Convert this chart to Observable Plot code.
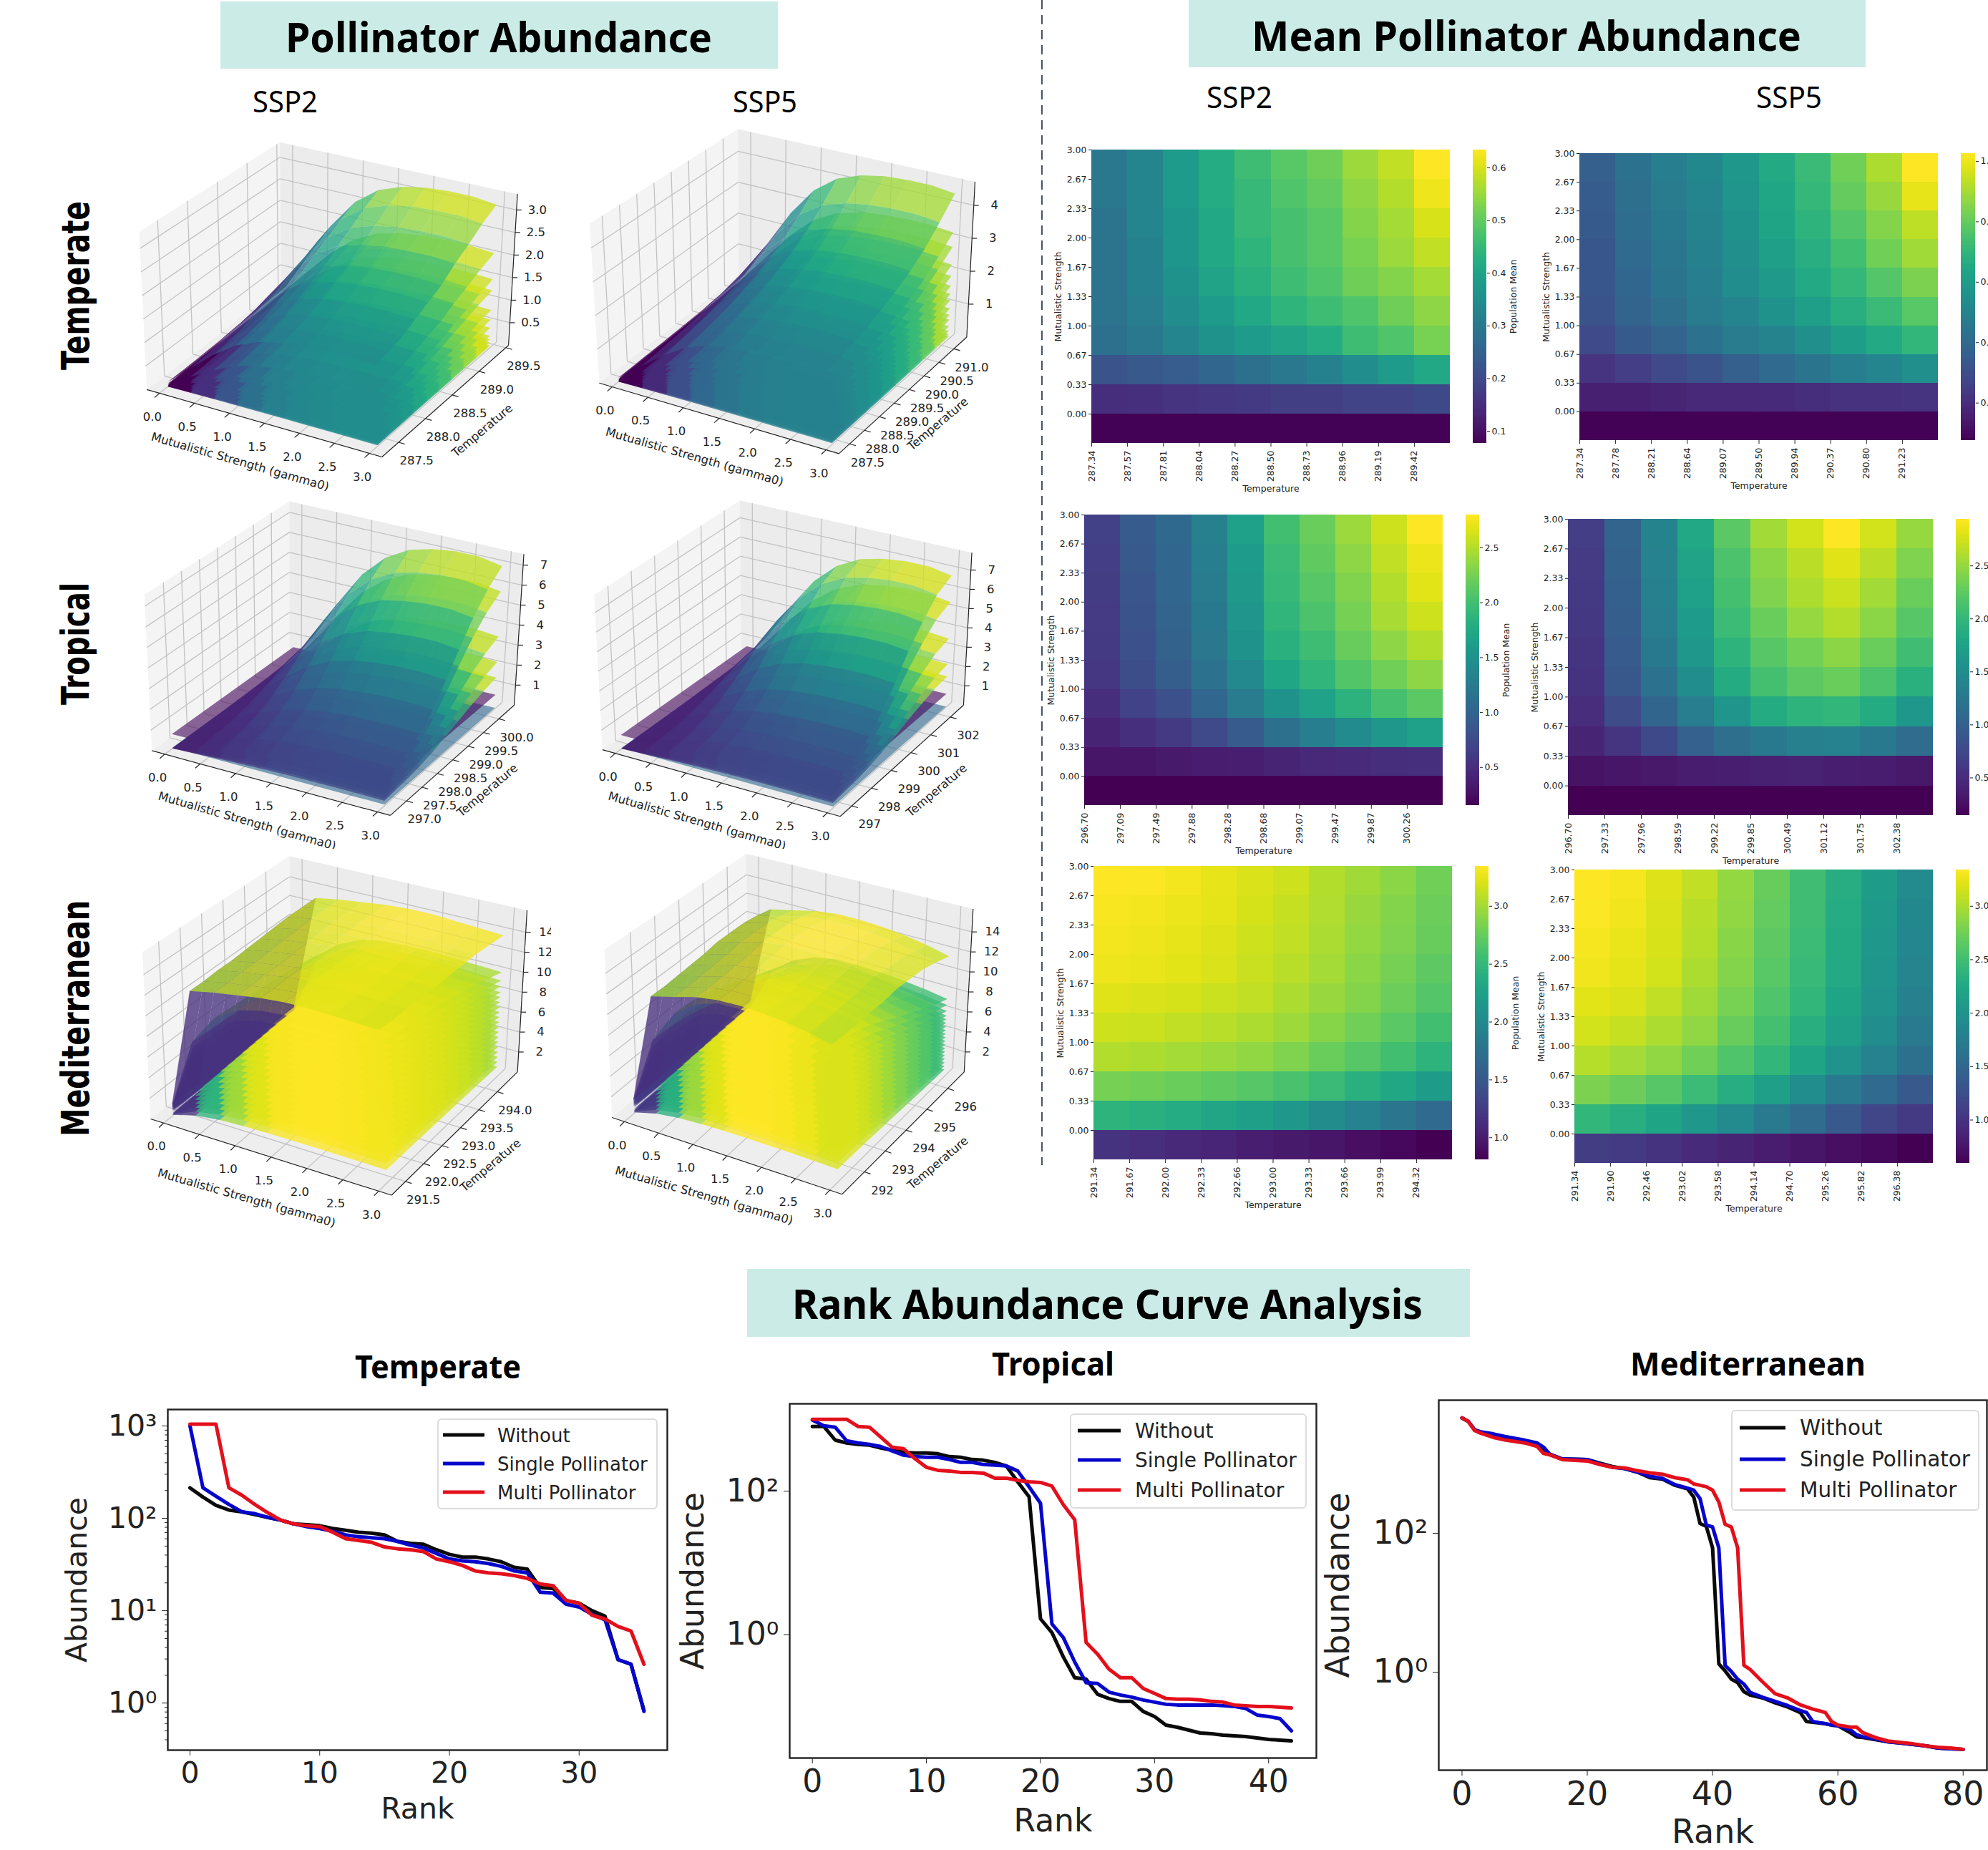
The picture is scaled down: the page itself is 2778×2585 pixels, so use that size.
<!DOCTYPE html>
<html><head><meta charset="utf-8">
<script src="https://cdn.jsdelivr.net/npm/d3@7"></script>
<script src="https://cdn.jsdelivr.net/npm/@observablehq/plot@0.6"></script>
<style>
html,body{margin:0;background:#fff}
#page{position:relative;width:2778px;height:2585px;overflow:hidden;background:#fff}
#page svg{position:absolute}
</style></head><body><div id="page"></div>
<script>
// ---------- rank abundance data (log10 abundance) ----------
const seriesNames = ["Without","Single Pollinator","Multi Pollinator"];
const seriesColors = ["#0a0a0a","#0505cc","#e3101c"];
const ranksTemperate = d3.range(36);
const temperateWithout = [2.33,2.23,2.14,2.09,2.07,2.04,2.01,1.98,1.94,1.93,1.92,1.89,1.87,1.85,1.84,1.82,1.75,1.73,1.72,1.66,1.61,1.58,1.58,1.56,1.53,1.47,1.45,1.25,1.24,1.11,1.08,1.00,0.94,0.47,0.42,-0.08];
const temperateSingle = [3.0,2.33,2.24,2.15,2.07,2.05,2.01,1.98,1.94,1.91,1.89,1.86,1.82,1.80,1.79,1.78,1.75,1.71,1.68,1.62,1.56,1.54,1.53,1.51,1.48,1.43,1.41,1.20,1.19,1.07,1.04,0.96,0.90,0.47,0.42,-0.09];
const temperateMulti = [3.02,3.02,3.02,2.33,2.25,2.15,2.06,1.98,1.94,1.92,1.91,1.85,1.78,1.76,1.74,1.69,1.67,1.66,1.64,1.56,1.53,1.49,1.43,1.41,1.40,1.38,1.35,1.29,1.27,1.11,1.08,0.95,0.91,0.83,0.78,0.42];
const ranksTropical = d3.range(43);
const tropicalWithout = [2.90,2.90,2.71,2.67,2.65,2.64,2.60,2.57,2.54,2.53,2.53,2.52,2.48,2.47,2.44,2.43,2.40,2.35,2.13,1.92,0.22,0.03,-0.31,-0.60,-0.62,-0.83,-0.89,-0.93,-0.93,-1.07,-1.14,-1.26,-1.29,-1.33,-1.37,-1.38,-1.40,-1.41,-1.42,-1.44,-1.46,-1.47,-1.48];
const tropicalSingle = [2.99,2.91,2.89,2.70,2.67,2.65,2.62,2.56,2.50,2.48,2.47,2.47,2.44,2.40,2.40,2.37,2.36,2.35,2.28,2.06,1.83,0.15,-0.04,-0.38,-0.67,-0.68,-0.80,-0.84,-0.87,-0.91,-0.94,-0.97,-0.98,-0.98,-0.98,-0.98,-0.99,-1.00,-1.03,-1.12,-1.14,-1.17,-1.34];
const tropicalMulti = [3.00,3.00,3.00,3.00,2.90,2.89,2.75,2.61,2.59,2.45,2.33,2.29,2.28,2.26,2.26,2.25,2.18,2.18,2.15,2.13,2.12,2.07,1.81,1.60,-0.11,-0.27,-0.48,-0.60,-0.60,-0.75,-0.82,-0.89,-0.90,-0.90,-0.91,-0.93,-0.94,-0.98,-0.99,-1.00,-1.00,-1.01,-1.02];
const ranksMediterranean = [0,1,2,3,5,7,10,12,13,14,16,20,22,24,26,28,30,32,34,36,37,38,39,40,41,42,43,44,45,46,48,50,52,54,55,56,58,59,60,62,63,64,66,68,70,72,74,76,78,80];
const mediterraneanWithout = [3.66,3.61,3.49,3.45,3.41,3.37,3.33,3.29,3.21,3.13,3.07,3.06,3.01,2.96,2.93,2.88,2.80,2.78,2.69,2.64,2.52,2.14,2.10,1.79,0.12,0.02,-0.10,-0.15,-0.28,-0.33,-0.37,-0.44,-0.50,-0.58,-0.71,-0.72,-0.74,-0.76,-0.77,-0.87,-0.93,-0.94,-0.97,-1.00,-1.02,-1.04,-1.06,-1.09,-1.10,-1.11];
const mediterraneanSingle = [3.66,3.61,3.49,3.46,3.43,3.39,3.34,3.30,3.24,3.14,3.07,3.06,3.00,2.95,2.93,2.88,2.82,2.79,2.70,2.65,2.62,2.50,2.12,2.09,1.79,0.10,0.01,-0.10,-0.17,-0.29,-0.36,-0.42,-0.48,-0.55,-0.58,-0.71,-0.74,-0.76,-0.77,-0.83,-0.90,-0.93,-0.96,-1.00,-1.02,-1.04,-1.06,-1.09,-1.10,-1.11];
const mediterraneanMulti = [3.66,3.61,3.48,3.44,3.38,3.34,3.30,3.25,3.15,3.13,3.06,3.04,2.99,2.95,2.94,2.90,2.87,2.85,2.80,2.77,2.71,2.69,2.67,2.62,2.45,2.13,2.09,1.79,0.10,0.04,-0.14,-0.31,-0.37,-0.47,-0.50,-0.53,-0.58,-0.71,-0.76,-0.79,-0.79,-0.87,-0.94,-0.99,-1.01,-1.03,-1.06,-1.08,-1.09,-1.11];

// ---------- heatmap data (rows from gamma 3.00 down to below 0.00) ----------
const gammaLabels = ["3.00","2.67","2.33","2.00","1.67","1.33","1.00","0.67","0.33","0.00"];
const tempsT2 = [287.34,287.57,287.81,288.04,288.27,288.50,288.73,288.96,289.19,289.42];
const tempsT5 = [287.34,287.78,288.21,288.64,289.07,289.50,289.94,290.37,290.80,291.23];
const tempsR2 = [296.70,297.09,297.49,297.88,298.28,298.68,299.07,299.47,299.87,300.26];
const tempsR5 = [296.70,297.33,297.96,298.59,299.22,299.85,300.49,301.12,301.75,302.38];
const tempsM2 = [291.34,291.67,292.00,292.33,292.66,293.00,293.33,293.66,293.99,294.32];
const tempsM5 = [291.34,291.90,292.46,293.02,293.58,294.14,294.70,295.26,295.82,296.38];
const meanT2 = [[.30,.33,.38,.42,.46,.49,.51,.55,.58,.634],[.30,.33,.38,.42,.45,.48,.50,.54,.57,.62],[.29,.33,.37,.41,.45,.47,.49,.53,.56,.60],[.29,.32,.37,.41,.44,.47,.49,.52,.55,.58],[.29,.32,.36,.40,.43,.46,.48,.51,.53,.56],[.29,.31,.35,.38,.41,.44,.46,.48,.51,.54],[.28,.30,.33,.36,.38,.40,.42,.46,.48,.52],[.22,.23,.24,.26,.28,.30,.32,.35,.38,.41],[.15,.155,.16,.165,.17,.18,.18,.19,.19,.20],[.08,.08,.08,.08,.08,.08,.08,.08,.08,.08]];
const meanT5 = [[.36,.43,.48,.52,.58,.65,.72,.82,.91,1.026],[.35,.42,.47,.51,.57,.64,.71,.80,.88,.99],[.34,.41,.46,.50,.56,.63,.69,.77,.85,.93],[.33,.40,.45,.49,.55,.61,.67,.74,.82,.89],[.33,.39,.44,.48,.54,.59,.65,.71,.77,.84],[.32,.38,.42,.47,.51,.56,.61,.67,.72,.78],[.29,.34,.38,.43,.47,.50,.55,.60,.65,.70],[.22,.25,.29,.32,.36,.40,.44,.48,.51,.55],[.16,.16,.17,.18,.18,.19,.20,.21,.21,.22],[.08,.08,.08,.08,.08,.08,.08,.08,.08,.08]];
const meanR2 = [[.65,.90,1.05,1.30,1.65,2.00,2.20,2.40,2.60,2.80],[.63,.88,1.03,1.27,1.60,1.95,2.15,2.35,2.55,2.72],[.62,.85,1.02,1.25,1.58,1.93,2.10,2.30,2.50,2.68],[.61,.83,1.00,1.22,1.53,1.88,2.05,2.25,2.45,2.60],[.60,.80,.98,1.20,1.50,1.83,1.98,2.18,2.35,2.50],[.57,.77,.93,1.15,1.40,1.72,1.88,2.08,2.23,2.35],[.50,.67,.80,1.02,1.25,1.50,1.68,1.85,2.02,2.13],[.42,.52,.60,.75,.90,1.12,1.28,1.42,1.55,1.65],[.30,.30,.33,.36,.38,.42,.45,.47,.50,.52],[.16,.16,.16,.16,.16,.16,.16,.16,.16,.16]];
const meanR5 = [[.65,1.04,1.40,1.82,2.22,2.55,2.75,2.94,2.75,2.50],[.63,1.02,1.38,1.77,2.15,2.45,2.65,2.80,2.65,2.40],[.61,.99,1.35,1.72,2.10,2.40,2.60,2.72,2.55,2.30],[.60,.97,1.32,1.67,2.05,2.30,2.50,2.62,2.45,2.20],[.58,.94,1.28,1.62,1.95,2.20,2.35,2.45,2.30,2.08],[.55,.90,1.20,1.50,1.85,2.10,2.25,2.30,2.15,1.92],[.50,.78,1.05,1.32,1.60,1.85,1.95,1.98,1.85,1.62],[.42,.58,.76,1.00,1.15,1.28,1.35,1.38,1.28,1.12],[.28,.30,.33,.37,.38,.40,.41,.38,.36,.32],[.15,.15,.15,.15,.15,.15,.15,.15,.15,.15]];
const meanM2 = [[3.34,3.33,3.30,3.25,3.20,3.15,3.05,2.98,2.90,2.80],[3.32,3.30,3.27,3.24,3.18,3.12,3.04,2.95,2.87,2.78],[3.30,3.28,3.25,3.21,3.15,3.10,3.02,2.93,2.85,2.76],[3.28,3.26,3.23,3.20,3.13,3.07,3.00,2.90,2.82,2.72],[3.22,3.20,3.18,3.14,3.10,3.03,2.95,2.87,2.78,2.67],[3.15,3.14,3.10,3.07,3.03,2.97,2.88,2.80,2.70,2.58],[3.05,3.03,3.00,2.96,2.92,2.85,2.77,2.68,2.58,2.45],[2.82,2.80,2.77,2.73,2.68,2.62,2.53,2.42,2.32,2.20],[2.45,2.42,2.37,2.30,2.23,2.15,2.03,1.92,1.80,1.68],[1.18,1.15,1.10,1.07,1.02,.98,.95,.90,.86,.81]];
const meanM5 = [[3.34,3.30,3.20,3.08,2.90,2.70,2.50,2.30,2.10,1.90],[3.32,3.28,3.18,3.05,2.88,2.68,2.50,2.28,2.08,1.88],[3.30,3.25,3.17,3.03,2.85,2.66,2.47,2.26,2.06,1.85],[3.28,3.23,3.15,3.00,2.83,2.63,2.45,2.25,2.03,1.83],[3.22,3.18,3.08,2.95,2.78,2.58,2.40,2.20,2.00,1.78],[3.15,3.10,3.00,2.88,2.70,2.52,2.33,2.13,1.93,1.72],[3.03,2.97,2.88,2.75,2.58,2.40,2.20,2.00,1.80,1.60],[2.80,2.72,2.62,2.47,2.30,2.13,1.93,1.72,1.53,1.35],[2.40,2.32,2.20,2.05,1.90,1.72,1.55,1.35,1.17,1.05],[1.08,1.05,1.00,.92,.87,.80,.75,.70,.65,.60]];

// ---------- 3D surface data: sheet heights and response along each grid axis ----------
const gammaGrid = [0,.33,.67,1,1.33,1.67,2,2.33,2.67,3];
const gammaTicks = [0,.5,1,1.5,2,2.5,3];
const sheetsT2 = [.04,.07,.13,.2,.28,.46,.64,.86,1.3,1.55,2.14,3.23];
const sheetsT5 = [.08,.15,.25,.4,.6,.75,.95,1.2,1.4,1.65,1.95,2.3,2.85,3.3,4.5];
const sheetsR2 = [1.6,2.4,3.7,6.0,7.3];
const sheetsR5 = [1.65,2.3,3.65,5.6,7.0];
const sheetsM2 = [1.2,1.8,2.4,3,3.6,4.2,4.8,5.4,6,6.6,7.2,7.8,8.4,9,9.6,10.2,10.9,11.6,12.6,14.5];
const sheetsM5 = [1.2,1.8,2.4,3,3.6,4.2,4.8,5.4,6,6.6,7.2,7.8,8.4,9,9.6,10.2,11,12,13,14];
const gammaRespT = [.06,.32,.58,.78,.9,.96,.99,1,1,.98];
const gammaRespR = [.02,.22,.48,.7,.85,.94,.98,1,1,.97];
const gammaRespM2 = [.08,.62,.85,.95,.99,1,1,.99,.98,.97];
const gammaRespM5 = [.1,.6,.84,.95,1,1,.99,.97,.94,.9];
const topGammaM2 = [.08,.92,.95,.97,.99,1,1,.99,.98,.97];
const topGammaM5 = [.1,.9,.94,.98,1,1,.99,.97,.94,.9];
const tempRespT2 = [.5,.52,.55,.6,.65,.7,.78,.85,.93,1];
const tempRespT5 = [.45,.47,.5,.53,.57,.62,.68,.76,.87,1];
const tempRespR2 = [.14,.17,.2,.26,.35,.48,.62,.77,.9,1];
const tempRespR5 = [.14,.17,.2,.27,.37,.5,.66,.8,.93,1];
const tempRespM2 = [1,.99,.98,.97,.96,.95,.93,.91,.88,.85];
const tempRespM5 = [1,1,.98,.95,.9,.85,.8,.75,.7,.66];
const topRespM2 = [.95,.95,.96,.96,.97,.98,.99,1,1,1];
const topRespM5 = [.95,.95,.96,.97,.98,1,1,1,.98,.95];
const flatHeightsR = [.05,.7];
const flatShadesR = [.33,.03];

// ---------- layout ----------
const page = document.getElementById("page");
const SVGNS = "http://www.w3.org/2000/svg";
const overlay = document.createElementNS(SVGNS,"svg");
overlay.setAttribute("width",2778); overlay.setAttribute("height",2585);
overlay.style.cssText = "left:0;top:0;z-index:5;pointer-events:none";
function el(name,attrs){const e=document.createElementNS(SVGNS,name);for(const k in attrs)e.setAttribute(k,attrs[k]);overlay.appendChild(e);return e;}
function label(str,x,y,o){
  const e = el("text",{x,y,"font-family":o.family||"'Noto Sans'","font-size":o.size,"font-weight":o.weight||400,fill:"#000",
    textLength:o.len,lengthAdjust:"spacingAndGlyphs"});
  if(o.rotate) e.setAttribute("transform",`rotate(${o.rotate} ${x} ${y})`);
  e.textContent = str;
}
const band = "#cbece6";
function bandRect(x,y,w,h){el("rect",{x,y,width:w,height:h,fill:band});}
bandRect(308,2,779,94); bandRect(1661,0,946,94); bandRect(1044,1773,1010,95);
label("Pollinator Abundance",399,73,{size:58,weight:700,len:596});
label("Mean Pollinator Abundance",1749,71,{size:58,weight:700,len:768});
label("Rank Abundance Curve Analysis",1107,1843,{size:58,weight:700,len:881});
label("SSP2",353,157,{size:42,len:91}); label("SSP5",1024,157,{size:42,len:90});
label("SSP2",1686,151,{size:42,len:92}); label("SSP5",2454,151,{size:42,len:92});
label("Temperate",124,517,{size:53,weight:700,family:"'DejaVu Sans'",rotate:-90,len:236});
label("Tropical",124,985,{size:53,weight:700,family:"'DejaVu Sans'",rotate:-90,len:171});
label("Mediterranean",124,1588,{size:53,weight:700,family:"'DejaVu Sans'",rotate:-90,len:330});
label("Temperate",496,1926,{size:44,weight:700,len:232});
label("Tropical",1386,1922,{size:44,weight:700,len:171});
label("Mediterranean",2278,1922,{size:44,weight:700,len:329});
el("line",{x1:1456,y1:0,x2:1456,y2:1628,stroke:"#44546a","stroke-width":2,"stroke-dasharray":"13 8"});

const FONT = "'DejaVu Sans'";
const place = (left,top)=>({position:"absolute",left:left+"px",top:top+"px",background:"transparent",maxWidth:"none",fontFamily:FONT,color:"#222"});

// ---------- heatmaps ----------
function heatmap(matrix,temps,f){
  const cells = matrix.flatMap((row,r)=>row.map((v,c)=>({c,r,v})));
  const [l,t,rt,b] = f.frame, mL=70, mB=90, mT=12;
  const lo=f.domain[0], hi=f.domain[1];
  page.appendChild(Plot.plot({
    width:rt-l+mL, height:b-t+mB+mT, marginLeft:mL, marginRight:0, marginTop:mT, marginBottom:mB,
    style:place(l-mL,t-mT),
    x:{domain:[0,10]}, y:{domain:[0,10],reverse:true},
    color:{type:"linear",scheme:"viridis",domain:[lo,hi]},
    marks:[
      Plot.rect(cells,{x1:"c",x2:d=>d.c+1,y1:"r",y2:d=>d.r+1,fill:"v",shapeRendering:"crispEdges"}),
      Plot.axisX({ticks:d3.range(10),tickFormat:i=>temps[i].toFixed(2),tickRotate:-90,tickSize:5,tickPadding:5,fontSize:12.5,label:"Temperature",labelAnchor:"center",labelOffset:67,labelArrow:"none"}),
      Plot.axisY({ticks:d3.range(10),tickFormat:i=>gammaLabels[i],tickSize:4,tickPadding:3,fontSize:12.5,label:"Mutualistic Strength",labelAnchor:"center",labelOffset:51,labelArrow:"none"})
    ]}));
  const [c1,c2] = f.bar, H=b-t;
  const steps = d3.range(160).map(i=>({a:lo+(hi-lo)*i/160,b:lo+(hi-lo)*(i+1)/160,v:lo+(hi-lo)*(i+.5)/160}));
  page.appendChild(Plot.plot({
    width:c2-c1+85, height:H+16, marginLeft:0, marginRight:85, marginTop:8, marginBottom:8,
    style:place(c1,t-8),
    x:{domain:[0,1],axis:null}, y:{domain:[lo,hi]},
    color:{type:"linear",scheme:"viridis",domain:[lo,hi]},
    marks:[
      Plot.rect(steps,{x1:0,x2:1,y1:"a",y2:"b",fill:"v",shapeRendering:"crispEdges"}),
      Plot.axisY({anchor:"right",ticks:f.barTicks,tickFormat:d3.format(".1f"),tickSize:4,tickPadding:3,fontSize:12.5,label:"Population Mean",labelAnchor:"center",labelOffset:41,labelArrow:"none"})
    ]}));
}
heatmap(meanT2,tempsT2,{frame:[1525,209,2026,619],bar:[2058,2077],domain:[.077,.634],barTicks:[.1,.2,.3,.4,.5,.6]});
heatmap(meanT5,tempsT5,{frame:[2207,214,2708,615],bar:[2740,2760],domain:[.076,1.026],barTicks:[.2,.4,.6,.8,1]});
heatmap(meanR2,tempsR2,{frame:[1515,719,2016,1125],bar:[2048,2067],domain:[.153,2.80],barTicks:[.5,1,1.5,2,2.5]});
heatmap(meanR5,tempsR5,{frame:[2191,725,2701,1139],bar:[2733,2752],domain:[.145,2.94],barTicks:[.5,1,1.5,2,2.5]});
heatmap(meanM2,tempsM2,{frame:[1528,1210,2029,1620],bar:[2061,2080],domain:[.81,3.345],barTicks:[1,1.5,2,2.5,3]});
heatmap(meanM5,tempsM5,{frame:[2200,1215,2701,1625],bar:[2733,2752],domain:[.595,3.34],barTicks:[1,1.5,2,2.5,3]});

// ---------- 3D surfaces: each sheet is projected with the corners of the plot box ----------
const fromTop = ([x,y])=>[60+.893*x,.459*y];       // picture layout of the first row
const fromLower = ([x,y])=>[60+.893*x,690+.67*y];  // picture layout of the lower rows
function surface3d(o){
  const m = o.map, C = {}; for(const k in o.corners) C[k]=m(o.corners[k]);
  const P = (u,v,w)=>{const q=k=>(1-w)*((1-v)*((1-u)*C.LB[k]+u*C.FB[k])+v*((1-u)*C.BB[k]+u*C.RB[k]))+w*((1-v)*((1-u)*C.LT[k]+u*C.FT[k])+v*((1-u)*C.BT[k]+u*C.RT[k]));return [q(0),q(1)];};
  const [g0,g1]=o.gammaDomain,[T0,T1]=o.tempDomain,zMax=o.zMax;
  const U=g=>(g-g0)/(g1-g0),V=T=>(T-T0)/(T1-T0),W=z=>z/zMax;
  const poly=(rows,id,pts,extra)=>{for(const p of pts){const [x,y]=P(...p);rows.push({id,x,y,...extra});}};
  const wallL=[],wallB=[],floor=[];
  poly(wallL,0,[[0,0,0],[0,1,0],[0,1,1],[0,0,1]]);
  poly(wallB,0,[[0,1,0],[1,1,0],[1,1,1],[0,1,1]]);
  poly(floor,0,[[0,0,0],[1,0,0],[1,1,0],[0,1,0]]);
  const seg=(a,b)=>{const [x1,y1]=P(...a),[x2,y2]=P(...b);return {x1,y1,x2,y2};};
  const grid=[];
  for(const g of gammaTicks){const u=U(g);grid.push(seg([u,0,0],[u,1,0]),seg([u,1,0],[u,1,1]));}
  for(const T of o.tempTicks){const v=V(T);grid.push(seg([0,v,0],[1,v,0]),seg([0,v,0],[0,v,1]));}
  for(const z of o.zTicks){const w=W(z);grid.push(seg([0,0,w],[0,1,w]),seg([0,1,w],[1,1,w]));}
  const temps=o.temps;
  // flat low sheets
  const flats=[];
  (o.flatZ||[]).forEach((z,k)=>{
    poly(flats,k,[[U(0),V(temps[0]),W(z)],[U(3),V(temps[0]),W(z)],[U(3),V(temps[9]),W(z)],[U(0),V(temps[9]),W(z)]],{t:o.flatT[k]});
  });
  // sheets, lowest first and far cells first
  const sheets=[]; let id=0;
  const tFloor=o.tFloor||0;
  o.peaks.forEach((peak,s)=>{
    const isTop=s===o.peaks.length-1;
    const tr = (isTop&&o.topResp)?o.topResp:o.tempResp;
    const gr = (isTop&&o.topGamma)?o.topGamma:o.gammaResp;
    const Z=(i,j)=>peak*gr[i]*tr[j];
    const zs=gammaGrid.flatMap((_,i)=>temps.map((_,j)=>Z(i,j)));
    const lo=d3.min(zs),hi=d3.max(zs);
    for(let j=8;j>=0;j--)for(let i=0;i<9;i++){
      poly(sheets,id++,[[U(gammaGrid[i]),V(temps[j]),W(Z(i,j))],[U(gammaGrid[i+1]),V(temps[j]),W(Z(i+1,j))],[U(gammaGrid[i+1]),V(temps[j+1]),W(Z(i+1,j+1))],[U(gammaGrid[i]),V(temps[j+1]),W(Z(i,j+1))]],{t:tFloor+(1-tFloor)*(Z(i,j)-lo)/(hi-lo)});
    }
  });
  // axes
  const unit=(a,b,n)=>{const dx=b[0]-a[0],dy=b[1]-a[1],L=Math.hypot(dx,dy);return [dx/L*n,dy/L*n];};
  const tD=unit(C.RB,C.FB,9), gD=unit(C.LB,C.FB,9);
  const axes=[seg([0,0,0],[1,0,0]),seg([1,0,0],[1,1,0]),seg([1,1,0],[1,1,1])];
  const texts=[];
  for(const g of gammaTicks){const [x,y]=P(U(g),0,0);axes.push({x1:x,y1:y,x2:x+tD[0],y2:y+tD[1]});texts.push({x:x-10,y:y+33,s:g.toFixed(1)});}
  for(const T of o.tempTicks){const [x,y]=P(1,V(T),0);axes.push({x1:x,y1:y,x2:x+gD[0],y2:y+gD[1]});texts.push({x:x+25,y:y+26,s:o.tempFmt(T)});}
  for(const z of o.zTicks){const [x,y]=P(1,1,W(z));axes.push({x1:x,y1:y,x2:x+7,y2:y});texts.push({x:x+29,y,s:o.zFmt(z)});}
  const [bx0,by0,bx1,by1]=o.box;
  const [gx,gy]=m(o.gammaLabel),[tx,ty]=m(o.tempLabel);
  page.appendChild(Plot.plot({
    width:bx1-bx0,height:by1-by0,margin:0,style:place(bx0,by0),
    x:{domain:[bx0,bx1],range:[0,bx1-bx0],axis:null},y:{domain:[by0,by1],range:[0,by1-by0],axis:null},
    color:{type:"linear",scheme:"viridis",domain:[0,1]},
    marks:[
      Plot.line(floor,{x:"x",y:"y",z:"id",fill:"#eeeeee",stroke:"none"}),
      Plot.line(wallL,{x:"x",y:"y",z:"id",fill:"#f4f4f4",stroke:"none"}),
      Plot.line(wallB,{x:"x",y:"y",z:"id",fill:"#ececec",stroke:"none"}),
      Plot.link(grid,{x1:"x1",y1:"y1",x2:"x2",y2:"y2",stroke:"#c2c2c2",strokeWidth:1.3}),
      Plot.link(axes,{x1:"x1",y1:"y1",x2:"x2",y2:"y2",stroke:"#222",strokeWidth:1.2}),
      Plot.line(flats,{x:"x",y:"y",z:"id",fill:"t",stroke:"none",fillOpacity:.62}),
      Plot.line(sheets,{x:"x",y:"y",z:"id",fill:"t",stroke:"none",fillOpacity:.78}),
      Plot.text(texts,{x:"x",y:"y",text:"s",fontSize:16.5,fill:"#222"}),
      Plot.text([{x:gx,y:gy}],{x:"x",y:"y",text:()=>"Mutualistic Strength (gamma0)",rotate:16,fontSize:16.5,fill:"#222"}),
      Plot.text([{x:tx,y:ty}],{x:"x",y:"y",text:()=>"Temperature",rotate:-40,fontSize:16.5,fill:"#222"})
    ]}));
}
const f1=d3.format(".1f"), f0=d3.format("d");
surface3d({map:fromTop,box:[140,170,770,686],corners:{LB:[162,1185],LT:[150,705],BB:[372,870],BT:[370,432],RB:[728,1050],RT:[742,590],FB:[530,1390],FT:[522,860]},
  gammaDomain:[-.18,3.18],tempDomain:[287.19,289.55],zMax:3.35,temps:tempsT2,peaks:sheetsT2,gammaResp:gammaRespT,tempResp:tempRespT2,
  tempTicks:[287.5,288,288.5,289,289.5],zTicks:[.5,1,1.5,2,2.5,3],tempFmt:f1,zFmt:f1,gammaLabel:[308,1405],tempLabel:[687,1310]});
surface3d({map:fromTop,box:[770,170,1450,686],corners:{LB:[870,1165],LT:[855,680],BB:[1088,835],BT:[1087,392],RB:[1445,1025],RT:[1458,552],FB:[1245,1380],FT:[1226,840]},
  gammaDomain:[-.18,3.18],tempDomain:[287.14,291.43],zMax:4.72,temps:tempsT5,peaks:sheetsT5,gammaResp:gammaRespT,tempResp:tempRespT5,
  tempTicks:[287.5,288,288.5,289,289.5,290,290.5,291],zTicks:[1,2,3,4],tempFmt:f1,zFmt:f0,gammaLabel:[1019,1390],tempLabel:[1400,1290]});
surface3d({map:fromLower,box:[140,690,770,1186],corners:{LB:[170,535],LT:[158,210],BB:[385,330],BT:[385,15],RB:[737,440],RT:[752,125],FB:[543,670],FT:[525,315]},
  gammaDomain:[-.18,3.18],tempDomain:[296.47,300.5],zMax:7.55,temps:tempsR2,peaks:sheetsR2,gammaResp:gammaRespR,tempResp:tempRespR2,flatZ:flatHeightsR,flatT:flatShadesR,tFloor:.1,
  tempTicks:[297,297.5,298,298.5,299,299.5,300],zTicks:[1,2,3,4,5,6,7],tempFmt:f1,zFmt:f0,gammaLabel:[319,682],tempLabel:[695,618]});
surface3d({map:fromLower,box:[770,690,1450,1186],corners:{LB:[875,533],LT:[862,210],BB:[1092,330],BT:[1090,13],RB:[1440,440],RT:[1453,122],FB:[1247,672],FT:[1225,318]},
  gammaDomain:[-.18,3.18],tempDomain:[296.41,302.67],zMax:7.9,temps:tempsR5,peaks:sheetsR5,gammaResp:gammaRespR,tempResp:tempRespR5,flatZ:flatHeightsR,flatT:flatShadesR,tFloor:.1,
  tempTicks:[297,298,299,300,301,302],zTicks:[1,2,3,4,5,6,7],tempFmt:f0,zFmt:f0,gammaLabel:[1023,682],tempLabel:[1398,618]});
surface3d({map:fromLower,box:[140,1190,770,1718],corners:{LB:[168,1303],LT:[155,955],BB:[388,1070],BT:[385,755],RB:[742,1205],RT:[757,868],FB:[545,1462],FT:[527,1068]},
  gammaDomain:[-.18,3.18],tempDomain:[291.12,294.55],zMax:16.2,temps:tempsM2,peaks:sheetsM2,gammaResp:gammaRespM2,topGamma:topGammaM2,tempResp:tempRespM2,topResp:topRespM2,tFloor:.14,
  tempTicks:[291.5,292,292.5,293,293.5,294],zTicks:[2,4,6,8,10,12,14],tempFmt:f1,zFmt:f0,gammaLabel:[318,1468],tempLabel:[700,1400]});
surface3d({map:fromLower,box:[770,1190,1450,1718],corners:{LB:[890,1300],LT:[878,950],BB:[1103,1060],BT:[1100,750],RB:[1441,1205],RT:[1455,865],FB:[1250,1460],FT:[1233,1065]},
  gammaDomain:[-.18,3.18],tempDomain:[290.93,296.79],zMax:16.3,temps:tempsM5,peaks:sheetsM5,gammaResp:gammaRespM5,topGamma:topGammaM5,tempResp:tempRespM5,topResp:topRespM5,tFloor:.14,
  tempTicks:[292,293,294,295,296],zTicks:[2,4,6,8,10,12,14],tempFmt:f0,zFmt:f0,gammaLabel:[1034,1463],tempLabel:[1400,1395]});

// ---------- rank abundance curves ----------
const supers = {"-":"⁻",0:"⁰",1:"¹",2:"²",3:"³"};
function rankPlot(ranks,series,o){
  const rows = series.flatMap((vals,k)=>vals.map((e,i)=>({rank:ranks[i],abundance:10**e,series:seriesNames[k]})));
  const [l,t,r,b]=o.frame, mL=o.marginLeft, mB=140;
  page.appendChild(Plot.plot({
    width:r-l+mL+2,height:b-t+mB+3,marginLeft:mL,marginRight:2,marginTop:3,marginBottom:mB,
    style:place(l-mL,t-3),
    x:{domain:o.xDomain},
    y:{type:"log",domain:o.logDomain.map(e=>10**e)},
    color:{domain:seriesNames,range:seriesColors},
    marks:[
      Plot.axisY({ticks:o.minor,tickFormat:()=>"",tickSize:4,label:null}),
      Plot.axisX({ticks:o.xTicks,tickSize:8,tickPadding:8,fontSize:o.fontSize,label:"Rank",labelAnchor:"center",labelOffset:o.xLabel,labelArrow:"none"}),
      Plot.axisY({ticks:o.yTicks,tickFormat:v=>"10"+String(Math.round(Math.log10(v))).split("").map(c=>supers[c]).join(""),tickSize:8,tickPadding:7,fontSize:o.fontSize,label:"Abundance",labelAnchor:"center",labelOffset:o.yLabel,labelArrow:"none"}),
      Plot.line(rows,{x:"rank",y:"abundance",z:"series",stroke:"series",strokeWidth:5,curve:"linear"}),
      Plot.frame({stroke:"#222",strokeWidth:2.4})
    ]}));
  const [bx,by,bw,bh]=o.legend;
  el("rect",{x:bx,y:by,width:bw,height:bh,rx:5,fill:"#fff","fill-opacity":.85,stroke:"#dcdcdc","stroke-width":2});
  seriesNames.forEach((n,i)=>{
    const y=o.legendY[i];
    el("line",{x1:o.swatch[0],x2:o.swatch[1],y1:y,y2:y,stroke:seriesColors[i],"stroke-width":5});
    const e=el("text",{x:o.legendText,y:y+10,"font-family":FONT,"font-size":o.legendSize,fill:"#222"}); e.textContent=n;
  });
}
const minorDecades=(a,b)=>d3.range(a,b).flatMap(k=>[2,3,4,5,6,7,8,9].map(m=>m*10**k)).filter(v=>v>.31&&v<1500);
rankPlot(ranksTemperate,[temperateWithout,temperateSingle,temperateMulti],{frame:[234,1969,932,2445],marginLeft:150,xDomain:[-1.71,36.8],logDomain:[-.51,3.178],xTicks:[0,10,20,30],yTicks:[1,10,100,1000],minor:minorDecades(-1,4),fontSize:41,xLabel:95,yLabel:143,legend:[612,1983,306,125],legendY:[2005,2045,2085],swatch:[619,677],legendText:695,legendSize:26});
rankPlot(ranksTropical,[tropicalWithout,tropicalSingle,tropicalMulti],{frame:[1103,1961,1839,2456],marginLeft:170,xDomain:[-1.99,44.19],logDomain:[-1.719,3.216],xTicks:[0,10,20,30,40],yTicks:[1,100],minor:[],fontSize:44,xLabel:102,yLabel:152,legend:[1496,1976,329,131],legendY:[1999,2040,2082],swatch:[1506,1566],legendText:1586,legendSize:28});
rankPlot(ranksMediterranean,[mediterraneanWithout,mediterraneanSingle,mediterraneanMulti],{frame:[2010,1956,2776,2473],marginLeft:175,xDomain:[-3.71,83.8],logDomain:[-1.41,3.915],xTicks:[0,20,40,60,80],yTicks:[1,100],minor:[],fontSize:46,xLabel:101,yLabel:158,legend:[2420,1971,345,139],legendY:[1995,2039,2082],swatch:[2431,2495],legendText:2515,legendSize:29.5});
page.appendChild(overlay);
</script></body></html>
